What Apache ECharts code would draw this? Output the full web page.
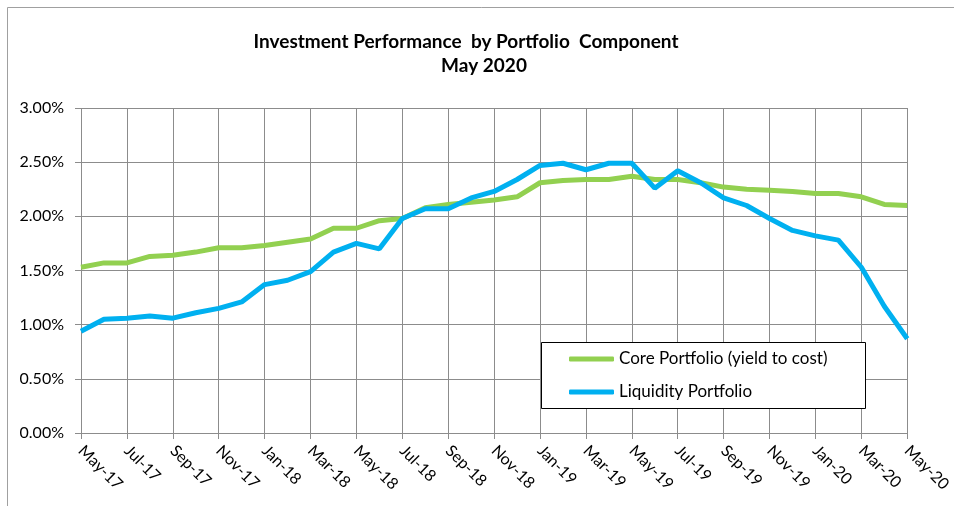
<!DOCTYPE html>
<html>
<head>
<meta charset="utf-8">
<script src="https://cdn.jsdelivr.net/npm/echarts@6/dist/echarts.min.js"></script>
<style>
html,body{margin:0;padding:0;background:#fff;}
#chart{width:954px;height:506px;}
</style>
</head>
<body>
<div id="chart"></div>
<script>
var months = ['May-17','Jun-17','Jul-17','Aug-17','Sep-17','Oct-17','Nov-17','Dec-17',
  'Jan-18','Feb-18','Mar-18','Apr-18','May-18','Jun-18','Jul-18','Aug-18','Sep-18','Oct-18','Nov-18','Dec-18',
  'Jan-19','Feb-19','Mar-19','Apr-19','May-19','Jun-19','Jul-19','Aug-19','Sep-19','Oct-19','Nov-19','Dec-19',
  'Jan-20','Feb-20','Mar-20','Apr-20','May-20'];
var corePortfolio = [1.53,1.57,1.57,1.63,1.64,1.67,1.71,1.71,1.73,1.76,1.79,1.89,1.89,1.96,1.98,2.08,2.11,2.13,2.15,2.18,
  2.31,2.33,2.34,2.34,2.37,2.34,2.34,2.31,2.27,2.25,2.24,2.23,2.21,2.21,2.18,2.11,2.10];
var liquidityPortfolio = [0.94,1.05,1.06,1.08,1.06,1.11,1.15,1.21,1.37,1.41,1.49,1.67,1.75,1.70,1.98,2.07,2.07,2.17,2.23,2.34,
  2.47,2.49,2.43,2.49,2.49,2.26,2.42,2.31,2.17,2.10,1.98,1.87,1.82,1.78,1.53,1.17,0.87];
var titleLines = ['Investment Performance  by Portfolio  Component', 'May 2020'];
var seriesNames = ['Core Portfolio (yield to cost)', 'Liquidity Portfolio'];

var FONT = 'Lato';
var GRID = '#8c8c8c';
var chart = echarts.init(document.getElementById('chart'), null, {renderer: 'canvas'});
chart.setOption({
  animation: false,
  backgroundColor: '#ffffff',
  textStyle: {fontFamily: FONT},
  graphic: [
    {type: 'rect', silent: true, z: -10, shape: {x: 7.5, y: 7.5, width: 1100, height: 700},
      style: {fill: 'none', stroke: '#a0a0a0', lineWidth: 1}},
    {type: 'text', x: 466, y: 51, style: {text: titleLines[0], textAlign: 'center', textVerticalAlign: 'bottom', font: 'bold 19px ' + FONT, fill: '#000'}},
    {type: 'text', x: 484, y: 75, style: {text: titleLines[1], textAlign: 'center', textVerticalAlign: 'bottom', font: 'bold 19px ' + FONT, fill: '#000'}},
    {type: 'rect', z: 50, shape: {x: 541.5, y: 342.5, width: 324, height: 66},
      style: {fill: '#fff', stroke: '#000', lineWidth: 1}}
  ],
  legend: {
    z: 60,
    orient: 'vertical',
    left: 569,
    top: 349,
    padding: 0,
    itemGap: 13,
    itemWidth: 45,
    itemHeight: 5,
    icon: 'roundRect',
    textStyle: {fontFamily: FONT, fontSize: 17, color: '#000', lineHeight: 20},
    data: seriesNames
  },
  grid: {left: 81, right: 43, top: 108, bottom: 73, containLabel: false},
  xAxis: {
    type: 'category',
    data: months,
    boundaryGap: false,
    axisLine: {show: true, lineStyle: {color: GRID, width: 1}},
    axisTick: {show: true, interval: 1, length: 6, lineStyle: {color: GRID}},
    splitLine: {show: true, interval: 1, lineStyle: {color: GRID, width: 1}},
    axisLabel: {interval: 1, rotate: -45, margin: 15, fontFamily: FONT, fontSize: 16, color: '#000'}
  },
  yAxis: {
    type: 'value',
    min: 0, max: 3, interval: 0.5,
    axisLine: {show: false},
    axisTick: {show: true, length: 6, lineStyle: {color: GRID}},
    splitLine: {show: true, lineStyle: {color: GRID, width: 1}},
    axisLabel: {margin: 17, fontFamily: FONT, fontSize: 16, color: '#000',
      formatter: function (v) { return v.toFixed(2) + '%'; }}
  },
  series: [
    {name: seriesNames[0], type: 'line', data: corePortfolio, showSymbol: false, symbol: 'none',
      color: '#92D050', lineStyle: {color: '#92D050', width: 5}},
    {name: seriesNames[1], type: 'line', data: liquidityPortfolio, showSymbol: false, symbol: 'none',
      color: '#00B0F0', lineStyle: {color: '#00B0F0', width: 5}}
  ]
});
</script>
</body>
</html>
